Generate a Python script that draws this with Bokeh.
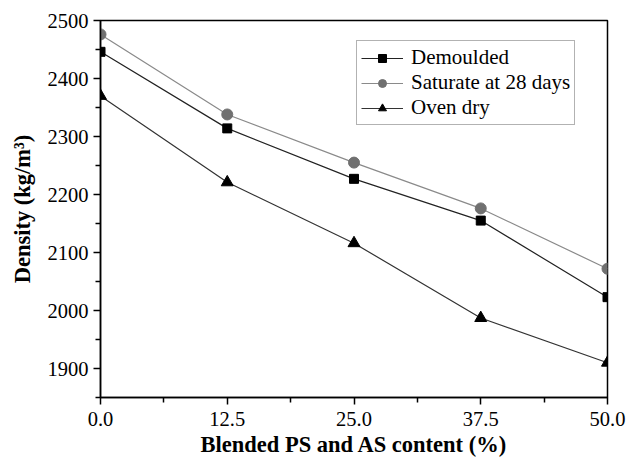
from bokeh.plotting import figure
from bokeh.models import Range1d, FixedTicker, NumeralTickFormatter, Legend, LegendItem
from bokeh.embed import file_html
from bokeh.resources import INLINE

content = [0.0, 12.5, 25.0, 37.5, 50.0]
demoulded = [2446, 2314, 2227, 2155, 2023]
saturate = [2476, 2338, 2255, 2176, 2072]
oven_dry = [2370, 2221, 2116, 1987, 1910]

x_ticks = [0.0, 12.5, 25.0, 37.5, 50.0]
x_minor = [6.25, 18.75, 31.25, 43.75]
y_ticks = [1900, 2000, 2100, 2200, 2300, 2400, 2500]
y_minor = [1850, 1950, 2050, 2150, 2250, 2350, 2450]

FONT = "Liberation Serif"

p = figure(width=627, height=467, output_backend="svg", toolbar_location=None,
           x_range=Range1d(0, 50), y_range=Range1d(1850, 2500),
           min_border_left=100, min_border_right=20, min_border_top=20, min_border_bottom=70)
p.grid.visible = False
p.background_fill_color = "white"
p.border_fill_color = "white"
p.outline_line_color = "black"
p.outline_line_width = 1.5

l1 = p.line(content, demoulded, line_color="#222222", line_width=1.2)
m1 = p.scatter(content, demoulded, marker="square", size=9, fill_color="black", line_color="black")
l2 = p.line(content, saturate, line_color="#8a8a8a", line_width=1.2)
m2 = p.scatter(content, saturate, marker="circle", size=11, fill_color="#707070", line_color="#707070")
l3 = p.line(content, oven_dry, line_color="#333333", line_width=1.2)
m3 = p.scatter(content, oven_dry, marker="triangle", size=12, fill_color="black", line_color="black")

xa = p.xaxis[0]
xa.ticker = FixedTicker(ticks=x_ticks, minor_ticks=x_minor)
xa.formatter = NumeralTickFormatter(format="0.0")
ya = p.yaxis[0]
ya.ticker = FixedTicker(ticks=y_ticks, minor_ticks=y_minor)

for ax in (xa, ya):
    ax.axis_line_width = 1.5
    ax.axis_line_color = "black"
    ax.major_tick_out = 7
    ax.major_tick_in = 0
    ax.minor_tick_out = 5
    ax.minor_tick_in = 0
    ax.major_tick_line_width = 1.5
    ax.minor_tick_line_width = 1.5
    ax.major_label_text_font = FONT
    ax.major_label_text_font_size = "20.5px"
    ax.major_label_text_color = "black"
    ax.axis_label_text_font = FONT
    ax.axis_label_text_font_size = "22.5px"
    ax.axis_label_text_font_style = "bold"
    ax.axis_label_text_color = "black"

xa.axis_label = "Blended PS and AS content (%)"
xa.major_label_standoff = 7
xa.axis_label_standoff = 3
ya.axis_label = "Density (kg/m³)"
ya.major_label_standoff = 5
ya.axis_label_standoff = 10

legend = Legend(items=[
    LegendItem(label="Demoulded", renderers=[l1, m1]),
    LegendItem(label="Saturate at 28 days", renderers=[l2, m2]),
    LegendItem(label="Oven dry", renderers=[l3, m3]),
], location=(256, 272))
legend.label_text_font = FONT
legend.label_text_font_size = "21px"
legend.label_text_color = "black"
legend.border_line_color = "#666666"
legend.border_line_width = 1
legend.background_fill_alpha = 1.0
legend.glyph_width = 42
legend.glyph_height = 20
legend.label_height = 20
legend.spacing = 0
legend.padding = 4
legend.margin = 0
legend.label_standoff = 8
p.add_layout(legend, "center")

open("out.html", "w").write(file_html(p, INLINE))
